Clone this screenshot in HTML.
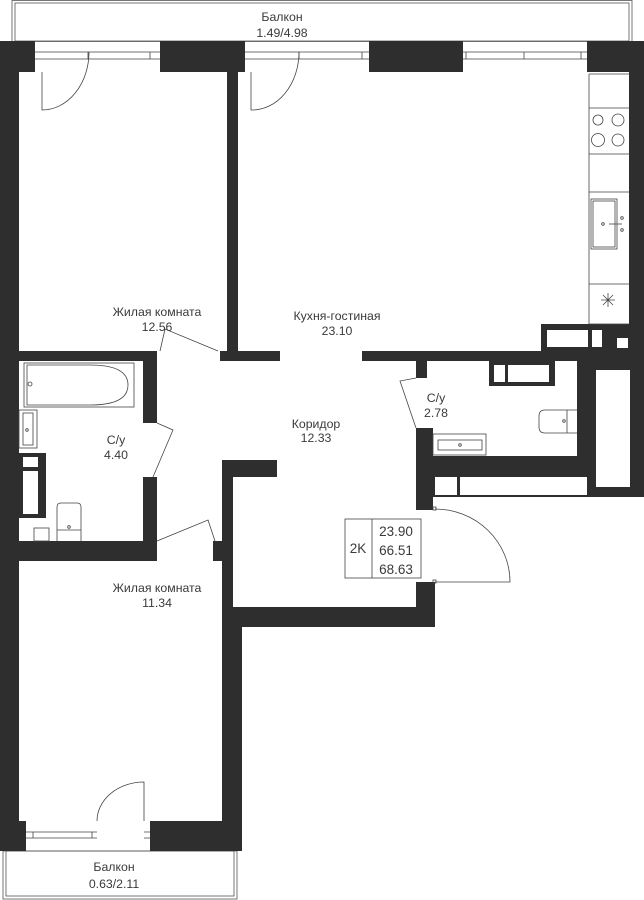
<!DOCTYPE html>
<html><head><meta charset="utf-8"><style>
html,body{margin:0;padding:0;background:#fff;}
svg{display:block;}
text{font-family:"Liberation Sans",sans-serif;font-size:12.3px;fill:#3a3a3a;text-anchor:middle;}
</style></head><body>
<svg width="644" height="900" viewBox="0 0 644 900" xmlns="http://www.w3.org/2000/svg">
<g fill="none" stroke="#555" stroke-width="0.8">
<rect x="12" y="0.5" width="620" height="41"/>
<rect x="15" y="3" width="614" height="38"/>
<rect x="3" y="851" width="234" height="48"/>
<rect x="6" y="851" width="228" height="45"/>
</g>
<text x="282" y="21">Балкон</text>
<text x="282" y="37">1.49/4.98</text>
<text x="114" y="871">Балкон</text>
<text x="114" y="888">0.63/2.11</text>

<g fill="#2e2e2e">
<rect x="0" y="41" width="35" height="31"/>
<rect x="160" y="41" width="85" height="31"/>
<rect x="369" y="41" width="94" height="31"/>
<rect x="587" y="41" width="57" height="31"/>
<rect x="0" y="41" width="19" height="810"/>
<rect x="227" y="71" width="11" height="290"/>
<rect x="629" y="71" width="15" height="260"/>
<rect x="0" y="351" width="157" height="10"/>
<rect x="220" y="351" width="60" height="10"/>
<rect x="362" y="351" width="282" height="10"/>
<rect x="541" y="324" width="103" height="37"/>
<rect x="143" y="361" width="14" height="62"/>
<rect x="143" y="477" width="14" height="84"/>
<rect x="0" y="541" width="157" height="20"/>
<rect x="19" y="453" width="27" height="65"/>
<rect x="213" y="541" width="9" height="20"/>
<rect x="222" y="460" width="55" height="17"/>
<rect x="222" y="460" width="11" height="167"/>
<rect x="222" y="607" width="213" height="20"/>
<rect x="416" y="582" width="19" height="45"/>
<rect x="222" y="620" width="20" height="231"/>
<rect x="416" y="361" width="11" height="17"/>
<rect x="416" y="428" width="17" height="82"/>
<rect x="416" y="456" width="181" height="41"/>
<rect x="577" y="361" width="67" height="136"/>
<rect x="489" y="361" width="88" height="25"/>
<rect x="0" y="821" width="26" height="30"/>
<rect x="150" y="821" width="92" height="30"/>
</g>
<g fill="#fff">
<rect x="547" y="330" width="41" height="17"/>
<rect x="592" y="330" width="10" height="17"/>
<rect x="617" y="338" width="11" height="10"/>
<rect x="596" y="370" width="34" height="117"/>
<rect x="494" y="365" width="11" height="17"/>
<rect x="508" y="365" width="41" height="17"/>
<rect x="555" y="361" width="22" height="25"/>
<rect x="435" y="477" width="22" height="18"/>
<rect x="460" y="477" width="127" height="18"/>
<rect x="23" y="457" width="15" height="10"/>
<rect x="23" y="471" width="15" height="43"/>
<rect x="433" y="433" width="53" height="23"/>
</g>

<g fill="none" stroke="#444" stroke-width="0.8">
<path d="M35 52H160M35 59H160M88 52V59M150 52V59"/>
<path d="M245 52H369M245 59H369M299 52V59M362 52V59"/>
<path d="M463 52H587M463 59H587M466 52V59M524 52V59M581 52V59"/>
<path d="M42 72V110A47 58 0 0 0 89 52"/>
<path d="M251 72V110A47 58 0 0 0 299 52"/>
<path d="M589 74H629M589 74V324M589 108H629M589 154H629M589 192H629M589 284H629M589 324H629"/>
<circle cx="598" cy="120" r="5"/><circle cx="618" cy="120" r="6"/>
<circle cx="598" cy="140" r="6.5"/><circle cx="618" cy="140" r="6"/>
<rect x="591" y="199" width="26" height="50"/><rect x="593" y="201" width="22" height="46"/>
<path d="M609 224H622"/><circle cx="603" cy="224" r="1.3"/><circle cx="622" cy="218" r="1.3"/><circle cx="622" cy="230" r="1.3"/>
<path d="M601 300H615M608 293V307M603 295L613 305M613 295L603 305"/>
<path d="M218 351L165 329L160 351"/>
<rect x="24" y="363" width="110" height="44"/>
<path d="M27 365H90Q128 365 128 385Q128 405 90 405H27Z"/>
<circle cx="30" cy="384" r="2"/>
<rect x="19" y="410" width="18" height="38"/><rect x="23" y="413" width="10" height="32"/>
<circle cx="27" cy="430" r="1.3"/>
<rect x="34" y="528" width="15" height="13"/>
<path d="M57 541V507Q57 503 61 503H77Q81 503 81 507V541M57 530H81"/><circle cx="69" cy="527" r="1.3"/>
<path d="M157 423L173 430L153 477"/>
<path d="M157 541L208 520L215 541"/>
<path d="M416 378L400 381L416 428"/>
<rect x="433" y="434" width="53" height="21"/><rect x="438" y="440" width="44" height="10"/>
<circle cx="460" cy="445" r="1.3"/>
<path d="M577 410H545Q539 410 539 416V427Q539 433 545 433H577M567 410V433"/><circle cx="564" cy="421" r="1.3"/>
<path d="M435 509A75 73 0 0 1 510 582H435"/>
<rect x="433" y="507" width="3" height="3"/><rect x="433" y="580" width="3" height="3"/>
<rect x="345" y="519" width="76" height="59"/>
<path d="M372 519V578"/>
<path d="M26 832H97M26 838H97M33 832V838M92 832V838"/>
<path d="M144 821V782A47 39 0 0 0 97 821"/>
<path d="M144 832H150M144 838H150"/>
</g>
<text x="157" y="316">Жилая комната</text>
<text x="157" y="331">12.56</text>
<text x="337" y="320">Кухня-гостиная</text>
<text x="337" y="335">23.10</text>
<text x="316" y="428">Коридор</text>
<text x="316" y="442">12.33</text>
<text x="116" y="444">С/у</text>
<text x="116" y="459">4.40</text>
<text x="436" y="402">С/у</text>
<text x="436" y="417">2.78</text>
<text x="157" y="592">Жилая комната</text>
<text x="157" y="607">11.34</text>
<text x="358" y="553" style="font-size:13.5px">2K</text>
<text x="396" y="536" style="font-size:13.5px">23.90</text>
<text x="396" y="555" style="font-size:13.5px">66.51</text>
<text x="396" y="574" style="font-size:13.5px">68.63</text>
</svg>
</body></html>
